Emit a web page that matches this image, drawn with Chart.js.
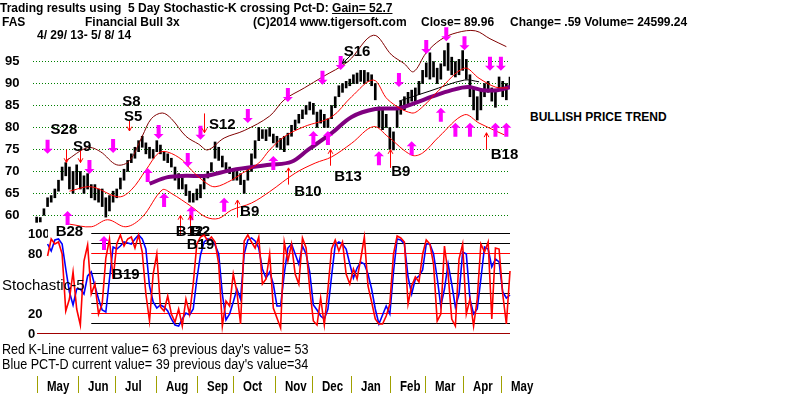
<!DOCTYPE html>
<html>
<head>
<meta charset="utf-8">
<script src="https://cdn.jsdelivr.net/npm/chart.js@4.4.0/dist/chart.umd.min.js"></script>
<style>
body { margin:0; background:#fff; width:800px; height:397px; overflow:hidden; position:relative; font-family:"Liberation Sans", Arial, sans-serif; }
canvas { position:absolute; left:0; }
#priceCanvas { top:0; }
#stochCanvas { top:226px; }
.t { position:absolute; white-space:pre; color:#000; font-weight:bold; font-size:12px; line-height:14px; }
.n { position:absolute; white-space:pre; color:#000; font-size:14px; line-height:15px; transform:scaleX(0.9); transform-origin:0 0; }
#months { position:absolute; left:0; top:376px; height:17px; }
#months div { position:absolute; top:0; height:17px; border-left:1px solid #a0a000; }
#months span { position:absolute; left:9px; top:1px; font-weight:bold; font-size:14px; line-height:18px; transform:scaleX(0.82); transform-origin:0 0; }
</style>
</head>
<body>
<canvas id="priceCanvas" width="520" height="240"></canvas>
<canvas id="stochCanvas" width="520" height="114"></canvas>

<div class="t" style="left:0;top:1px">Trading results using  5 Day Stochastic-K crossing Pct-D: <span style="text-decoration:underline">Gain= 52.7</span></div>
<div class="t" style="left:2px;top:15px">FAS</div>
<div class="t" style="left:85px;top:15px">Financial Bull 3x</div>
<div class="t" style="left:253px;top:15px">(C)2014 www.tigersoft.com</div>
<div class="t" style="left:421px;top:15px">Close= 89.96</div>
<div class="t" style="left:510px;top:15px">Change= .59 Volume= 24599.24</div>
<div class="t" style="left:37px;top:28px">4/ 29/ 13- 5/ 8/ 14</div>
<div class="t" style="left:530px;top:110px">BULLISH PRICE TREND</div>
<div class="t" style="left:2px;top:276px;font-size:15px;font-weight:normal;line-height:17px">Stochastic-5</div>
<div class="n" style="left:2px;top:342px">Red K-Line current value= 63 previous day's value= 53</div>
<div class="n" style="left:2px;top:357px">Blue PCT-D current value= 39 previous day's value=34</div>
<div id="months"></div>

<script>
// 가격 막대 (2거래일 간격, 4/29/13 ~ 5/8/14)
const barStep = 2;
const highs = [59.6,59.5,61.5,64,64.5,66,68,71,72,71,70,71.5,70,69,69.5,67,67,66,66,64,
  64.5,65.5,66,68.5,70.5,72.5,74,75.5,77,78,76.5,75.5,75,77,76,74.5,74,73,71,69.5,
  68.5,67,65.5,65,66,67,68.5,70,72,76.7,75.5,73.5,72,71,70,70,69.5,68,71,74,
  77,80,79.5,79.5,80,78.5,78,77.5,78,78.7,80.5,81.7,83,84,85,85.8,85.5,83.5,84,83,
  82,85,87,89.5,90,90.5,91,92,92.4,93,93,92.5,92,90,84.7,84,83,80,79,84,
  86,87,88,88.5,89,90.5,93,94.7,97,95,93.5,94.5,97.5,99.2,96,95,95.5,97.5,95.5,92,
  89,87,88.5,90,90.5,89,88.5,91.5,90.5,90,91.5];
const lows = [58.4,58.5,60,62,63,64,65.5,68,69,66,65,67,66,65,66,64,63.5,63,62,59.6,
  61,63,64,66,68,70,72,73,74.5,75.5,74,73,73,74.5,74,72.5,72,71,68,66,
  66,64.5,63,63,63.5,64,66,68.5,70,73,72.5,71,70,69.5,68,68,67,65,68,70,
  73,77,77.5,77,78,76.5,75.5,75,74.5,76,78,79.5,81,82,83,84,83,80,81,80,
  80,82,84.5,87,88,89,89.5,90,90,90.5,90,90.5,89.5,86.3,80,79.5,80,75,74.9,80,
  83,84,85,86,86,87.5,90,91.5,91,91.5,90,91,94,93,92,91.5,92,93,91,87,
  84,81.7,84,87,88,86,84.6,88.5,87,86.3,89];

// 밴드 및 이동평균 (거래일, 가격)
const upperDays = [16,28,35,44,51,58,63,69,74,82,89,94,103,114,128,136,147,157,171,185,195,202,207,214,222,231,241,249,258];
const upperVals = [72.4,75.4,74.5,71.5,72.4,78.0,82.0,83.3,82.0,78.0,76.2,74.9,77.6,79.3,82.6,86.3,89.0,91.5,95.0,101.0,96.5,94.5,92.7,97.0,100.0,101.6,102.0,100.2,98.4];
const midDays = [18,30,45,52,60,67,72,80,85,93,98,107,113,122,128,136,147,162,173,185,193,206,212,221,235,243,252,259];
const midVals = [65.5,66.5,64.2,65.8,70.3,74.2,74.4,72.6,70.3,67.4,66.5,68.0,69.6,71.9,74.9,77.9,80.2,82.4,87.0,90.8,86.3,83.3,84.7,88.5,93.5,91.2,89.2,89.0];
const lowerDays = [18,30,39,49,58,69,74,85,93,100,107,118,128,142,153,162,173,185,193,206,212,221,235,243,257];
const lowerVals = [58.0,57.4,59.0,57.4,59.6,65.8,65.0,62.0,59.6,59.3,61.2,62.8,65.4,69.6,71.9,73.3,76.4,80.2,77.9,73.7,74.2,77.9,82.9,81.0,78.3];
const maDays = [62,72,82,93,107,128,140,149,162,173,186,199,208,217,228,237,245,253,260];
const maVals = [67.2,68.7,69.0,69.0,70.3,71.5,72.2,74.9,78.7,82.4,84.2,84.4,85.6,87.0,88.5,89.2,88.5,88.5,89.2];
const ma2Days = [199,216,235,243];
const ma2Vals = [86.0,88.3,90.8,90.4];

// 분홍 화살표
const pinkDownDays = [6,29,42,67,83,90,116,138,157,167,199,214,225,235,249,255];
const pinkDownVals = [75.6,71.0,75.8,79.0,72.6,78.8,82.6,87.4,91.3,94.7,90.8,98.3,101.2,99.2,94.5,94.5];
const pinkUpDays = [17,61,70,85,103,130,152,160,188,206,222,230,238,252,258];
const pinkUpVals = [59.4,69.2,63.5,60.5,62.4,71.9,77.6,77.6,73.0,75.3,82.9,79.5,79.5,79.5,79.5];

// 매수/매도 신호
const sellArrowDays = [16,24,51,92];
const sellArrowFrom = [75.0,75.0,81.5,83.2];
const sellArrowTo = [72.0,72.0,79.2,78.8];
const buyArrowDays = [79,84,110,138,161,194,247];
const buyArrowFrom = [55.5,55.5,59.5,67.0,71.3,70.8,75.0];
const buyArrowTo = [60.0,60.0,63.5,70.8,75.0,75.0,78.8];
const sigNames = ['S28','S9','S8','S5','S12','S16','B28','B12','B2','B9','B10','B13','B9','B18'];
const sigDays = [15,25,52,53,102,176,18,84,90,117,149,171,200,257];
const sigVals = [79.4,75.6,85.8,82.4,80.6,97.2,56.3,56.3,56.3,60.8,65.3,68.7,69.9,73.8];
const priceTicks = [60,65,70,75,80,85,90,95];

// 스토캐스틱 (같은 2거래일 간격, 4번째 거래일부터)
const stochStart = 4;
const kLine = [96,78,95,90,92,80,23,35,62,25,9,73,89,40,50,20,30,76,95,55,
  90,99,88,95,97,86,99,82,40,13,60,80,27,23,38,20,12,25,8,35,
  20,50,90,97,99,93,97,92,70,8,33,28,60,42,10,93,99,92,86,97,
  50,55,80,26,16,6,92,73,90,60,50,96,86,45,13,9,36,9,45,85,
  94,83,92,60,50,65,55,75,97,48,32,15,10,10,18,30,80,98,96,92,
  30,48,57,52,80,94,90,70,13,20,88,60,15,8,75,90,20,35,8,35,
  90,82,92,15,86,85,40,10,63];
const dLine = [92,90,83,94,95,90,65,42,29,45,45,40,58,62,48,35,24,22,55,87,
  85,88,92,91,90,95,99,95,85,48,32,26,29,27,23,15,9,8,15,21,
  19,25,55,79,92,95,94,89,80,40,14,20,32,45,35,80,94,96,93,86,
  65,56,62,50,28,28,60,86,90,80,70,88,80,62,29,24,18,15,25,58,
  89,92,90,85,70,56,66,72,70,60,45,25,10,19,28,20,62,95,94,90,
  57,40,55,58,64,90,90,80,56,28,45,70,50,27,40,82,80,35,20,25,
  55,87,85,67,75,72,42,36,39];
const stochTicks = [0,20,80,100];
const stochLevels = [100,90,80,70,60,50,40,30,20,10,0];
const stochPinkDays = [37];
const stochPinkVals = [91];
const stochNames = ['B19','B19'];
const stochNameDays = [90,49];
const stochNameVals = [89,59];

const monthNames = ['May','Jun','Jul','Aug','Sep','Oct','Nov','Dec','Jan','Feb','Mar','Apr','May'];
const monthEdges = [37,78,115,156,197,233,275,312,351,390,425,463,501,545];

const fontFamily = '"Liberation Sans", Arial, sans-serif';

// 월 표시줄
const monthsEl = document.getElementById('months');
monthNames.forEach((m, i) => {
    const d = document.createElement('div');
    const s = document.createElement('span');
    s.textContent = m;
    d.appendChild(s);
    d.style.left = monthEdges[i] + 'px';
    monthsEl.appendChild(d);
});

function pts(days, vals) {
    return days.map((d, i) => ({ x: d, y: vals[i] }));
}

function fatArrow(ctx, x, y, up) {
    const h = 14, w = 4, hw = 5, hh = 5;
    const s = up ? 1 : -1;
    const top = y - s * h / 2;
    ctx.beginPath();
    ctx.moveTo(x, top);
    ctx.lineTo(x + hw, top + s * hh);
    ctx.lineTo(x + w / 2, top + s * hh);
    ctx.lineTo(x + w / 2, y + s * h / 2);
    ctx.lineTo(x - w / 2, y + s * h / 2);
    ctx.lineTo(x - w / 2, top + s * hh);
    ctx.lineTo(x - hw, top + s * hh);
    ctx.closePath();
    ctx.fill();
}

function thinArrow(ctx, x1, y1, x2, y2) {
    ctx.beginPath();
    ctx.moveTo(x1, y1);
    ctx.lineTo(x2, y2);
    const a = Math.atan2(y2 - y1, x2 - x1);
    ctx.moveTo(x2, y2);
    ctx.lineTo(x2 - 5 * Math.cos(a - 0.5), y2 - 5 * Math.sin(a - 0.5));
    ctx.moveTo(x2, y2);
    ctx.lineTo(x2 - 5 * Math.cos(a + 0.5), y2 - 5 * Math.sin(a + 0.5));
    ctx.stroke();
}

// 가격 차트 표시 (화살표, 신호 라벨)
const priceMarks = {
    id: 'priceMarks',
    afterDatasetsDraw(chart) {
        const ctx = chart.ctx;
        const xs = chart.scales.x, ys = chart.scales.y;
        ctx.save();
        ctx.fillStyle = '#ff00ff';
        pinkDownDays.forEach((d, i) => fatArrow(ctx, xs.getPixelForValue(d), ys.getPixelForValue(pinkDownVals[i]), false));
        pinkUpDays.forEach((d, i) => fatArrow(ctx, xs.getPixelForValue(d), ys.getPixelForValue(pinkUpVals[i]), true));
        ctx.strokeStyle = '#ff0000';
        ctx.lineWidth = 1;
        sellArrowDays.forEach((d, i) => {
            const x = Math.round(xs.getPixelForValue(d)) + 0.5;
            thinArrow(ctx, x, ys.getPixelForValue(sellArrowFrom[i]), x, ys.getPixelForValue(sellArrowTo[i]));
        });
        buyArrowDays.forEach((d, i) => {
            const x = Math.round(xs.getPixelForValue(d)) + 0.5;
            thinArrow(ctx, x, ys.getPixelForValue(buyArrowFrom[i]), x, ys.getPixelForValue(buyArrowTo[i]));
        });
        // S16 표시 화살표
        ctx.strokeStyle = '#000';
        thinArrow(ctx, xs.getPixelForValue(173), ys.getPixelForValue(96.6), xs.getPixelForValue(168), ys.getPixelForValue(94.6));
        ctx.fillStyle = '#000';
        ctx.font = 'bold 15px ' + fontFamily;
        ctx.textAlign = 'center';
        ctx.textBaseline = 'middle';
        sigNames.forEach((n, i) => ctx.fillText(n, xs.getPixelForValue(sigDays[i]), ys.getPixelForValue(sigVals[i])));
        ctx.restore();
    }
};

// 스토캐스틱 기준선
const stochMarks = {
    id: 'stochMarks',
    beforeDatasetsDraw(chart) {
        const ctx = chart.ctx;
        const xs = chart.scales.x, ys = chart.scales.y;
        const area = chart.chartArea;
        ctx.save();
        ctx.lineWidth = 1;
        stochLevels.forEach(v => {
            const y = Math.round(ys.getPixelForValue(v)) - 0.5;
            ctx.strokeStyle = v === 0 ? '#a00000' : (v === 80 || v === 20 ? '#ff0000' : '#000');
            ctx.beginPath();
            ctx.moveTo(v === 0 ? area.left - 11 : xs.getPixelForValue(30), y);
            ctx.lineTo(area.right, y);
            ctx.stroke();
        });
        ctx.restore();
    },
    afterDatasetsDraw(chart) {
        const ctx = chart.ctx;
        const xs = chart.scales.x, ys = chart.scales.y;
        ctx.save();
        ctx.fillStyle = '#ff00ff';
        stochPinkDays.forEach((d, i) => fatArrow(ctx, xs.getPixelForValue(d), ys.getPixelForValue(stochPinkVals[i]), true));
        ctx.fillStyle = '#000';
        ctx.font = 'bold 15px ' + fontFamily;
        ctx.textAlign = 'center';
        ctx.textBaseline = 'middle';
        stochNames.forEach((n, i) => ctx.fillText(n, xs.getPixelForValue(stochNameDays[i]), ys.getPixelForValue(stochNameVals[i])));
        ctx.restore();
    }
};

const bandLine = (data, color, width) => ({
    type: 'line', data: data, borderColor: color, borderWidth: width,
    pointRadius: 0, tension: 0.35, fill: false
});

// 축 라벨 여백 없이 차트 영역을 맞춤
const fitAxis = w => s => { s.width = w; s.paddingTop = 0; s.paddingBottom = 0; };

new Chart(document.getElementById('priceCanvas'), {
    type: 'bar',
    data: {
        datasets: [
            bandLine(pts(upperDays, upperVals), '#800000', 1),
            bandLine(pts(midDays, midVals), '#ff0000', 1),
            bandLine(pts(lowerDays, lowerVals), '#ff0000', 1),
            bandLine(pts(ma2Days, ma2Vals), '#000000', 1),
            bandLine(pts(maDays, maVals), '#800080', 4),
            {
                type: 'bar',
                data: highs.map((h, i) => ({ x: i * barStep, y: [lows[i], h] })),
                backgroundColor: '#000',
                barThickness: 2
            }
        ]
    },
    options: {
        responsive: false,
        animation: false,
        layout: { padding: { top: 26, bottom: 4, left: 5, right: 10 } },
        plugins: { legend: { display: false }, tooltip: { enabled: false } },
        scales: {
            x: { type: 'linear', min: -2, max: 260, display: false, offset: false },
            y: {
                min: 55.3, max: 103.1,
                afterFit: fitAxis(28),
                afterBuildTicks: s => { s.ticks = priceTicks.map(v => ({ value: v })); },
                ticks: { color: '#000', crossAlign: 'far', font: { family: fontFamily, size: 13, weight: 'bold' } },
                grid: { color: '#008000', drawTicks: false },
                border: { display: false, dash: [1, 2] }
            }
        }
    },
    plugins: [priceMarks]
});

new Chart(document.getElementById('stochCanvas'), {
    type: 'line',
    data: {
        datasets: [
            {
                data: kLine.map((v, i) => ({ x: stochStart + i * barStep, y: v })),
                borderColor: '#ff0000', borderWidth: 1.6, pointRadius: 0, tension: 0, clip: false
            },
            {
                data: dLine.map((v, i) => ({ x: stochStart + i * barStep, y: v })),
                borderColor: '#0000ff', borderWidth: 1.6, pointRadius: 0, tension: 0, clip: false
            }
        ]
    },
    options: {
        responsive: false,
        animation: false,
        layout: { padding: { top: 8, bottom: 6, left: 28, right: 10 } },
        plugins: { legend: { display: false }, tooltip: { enabled: false } },
        scales: {
            x: { type: 'linear', min: -2 + 15 * 262 / 477, max: 260, display: false },
            y: {
                min: 0, max: 100,
                afterFit: fitAxis(20),
                afterBuildTicks: s => { s.ticks = stochTicks.map(v => ({ value: v })); },
                ticks: { color: '#000', crossAlign: 'far', font: { family: fontFamily, size: 13, weight: 'bold' } },
                grid: { display: false },
                border: { display: false }
            }
        }
    },
    plugins: [stochMarks]
});
</script>
</body>
</html>
